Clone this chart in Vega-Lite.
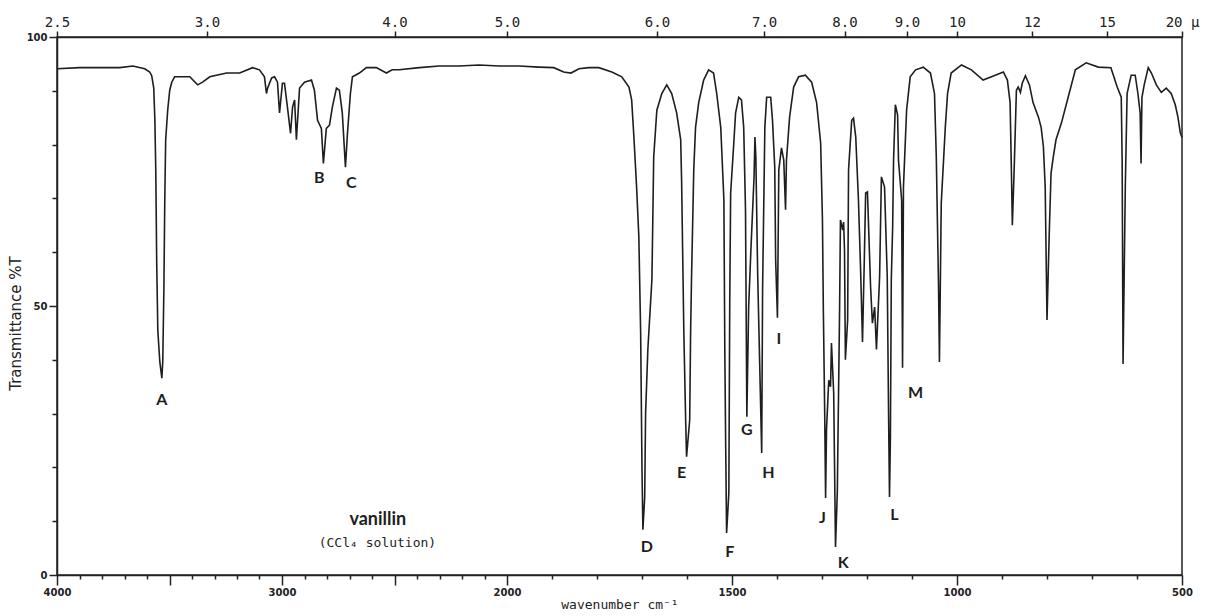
{
  "$schema": "https://vega.github.io/schema/vega-lite/v6.json",
  "width": 1125,
  "height": 538,
  "autosize": {"type": "none"},
  "padding": {"left": 57, "top": 37, "right": 30, "bottom": 41},
  "background": "white",
  "config": {
    "view": {"stroke": "#222222", "strokeWidth": 1.5},
    "axis": {"domainColor": "#222222", "tickColor": "#222222", "labelColor": "#222222", "titleColor": "#222222", "grid": false, "domainWidth": 1.5, "tickWidth": 1.5}
  },
  "datasets": {
    "spectrum": [
      {"wn": 4000, "T": 94.1}, {"wn": 3898, "T": 94.3}, {"wn": 3809, "T": 94.3}, {"wn": 3721, "T": 94.3}, {"wn": 3663, "T": 94.6},
      {"wn": 3610, "T": 94.1}, {"wn": 3588, "T": 93.5}, {"wn": 3579, "T": 92.8}, {"wn": 3570, "T": 90.5}, {"wn": 3565, "T": 84.5},
      {"wn": 3561, "T": 75.3}, {"wn": 3557, "T": 58.5}, {"wn": 3552, "T": 45.5}, {"wn": 3543, "T": 39.6}, {"wn": 3534, "T": 36.6},
      {"wn": 3530, "T": 39.6}, {"wn": 3525, "T": 53.0}, {"wn": 3521, "T": 69.7}, {"wn": 3517, "T": 80.9}, {"wn": 3508, "T": 86.4},
      {"wn": 3499, "T": 90.1}, {"wn": 3490, "T": 91.6}, {"wn": 3477, "T": 92.6}, {"wn": 3410, "T": 92.6}, {"wn": 3375, "T": 91.1},
      {"wn": 3353, "T": 91.6}, {"wn": 3321, "T": 92.6}, {"wn": 3246, "T": 93.3}, {"wn": 3188, "T": 93.3}, {"wn": 3131, "T": 94.3},
      {"wn": 3100, "T": 93.9}, {"wn": 3078, "T": 92.6}, {"wn": 3069, "T": 89.5}, {"wn": 3064, "T": 90.5}, {"wn": 3046, "T": 92.4},
      {"wn": 3033, "T": 92.6}, {"wn": 3020, "T": 91.6}, {"wn": 3011, "T": 85.9}, {"wn": 2998, "T": 91.4}, {"wn": 2989, "T": 91.4},
      {"wn": 2976, "T": 87.0}, {"wn": 2962, "T": 82.1}, {"wn": 2953, "T": 87.0}, {"wn": 2944, "T": 88.3}, {"wn": 2936, "T": 80.9},
      {"wn": 2922, "T": 90.5}, {"wn": 2900, "T": 91.6}, {"wn": 2869, "T": 92.0}, {"wn": 2856, "T": 90.1}, {"wn": 2842, "T": 84.5},
      {"wn": 2825, "T": 83.0}, {"wn": 2816, "T": 76.5}, {"wn": 2803, "T": 83.0}, {"wn": 2789, "T": 83.6}, {"wn": 2776, "T": 87.0},
      {"wn": 2758, "T": 90.5}, {"wn": 2745, "T": 90.1}, {"wn": 2732, "T": 85.9}, {"wn": 2718, "T": 75.8}, {"wn": 2709, "T": 82.1},
      {"wn": 2696, "T": 89.5}, {"wn": 2687, "T": 92.6}, {"wn": 2656, "T": 93.3}, {"wn": 2625, "T": 94.3}, {"wn": 2581, "T": 94.3},
      {"wn": 2536, "T": 93.3}, {"wn": 2510, "T": 93.9}, {"wn": 2479, "T": 93.9}, {"wn": 2390, "T": 94.3}, {"wn": 2301, "T": 94.6},
      {"wn": 2213, "T": 94.6}, {"wn": 2124, "T": 94.8}, {"wn": 2035, "T": 94.6}, {"wn": 1973, "T": 94.6}, {"wn": 1929, "T": 94.4},
      {"wn": 1896, "T": 94.3}, {"wn": 1874, "T": 93.5}, {"wn": 1858, "T": 93.3}, {"wn": 1840, "T": 94.1}, {"wn": 1818, "T": 94.3},
      {"wn": 1796, "T": 94.3}, {"wn": 1767, "T": 93.5}, {"wn": 1745, "T": 92.6}, {"wn": 1729, "T": 90.7}, {"wn": 1723, "T": 88.3},
      {"wn": 1718, "T": 81.4}, {"wn": 1712, "T": 72.1}, {"wn": 1707, "T": 62.8}, {"wn": 1703, "T": 45.0}, {"wn": 1700, "T": 19.5},
      {"wn": 1698, "T": 8.4}, {"wn": 1694, "T": 14.5}, {"wn": 1692, "T": 30.1}, {"wn": 1687, "T": 41.9}, {"wn": 1678, "T": 54.9},
      {"wn": 1676, "T": 66.0}, {"wn": 1674, "T": 77.7}, {"wn": 1667, "T": 86.4}, {"wn": 1656, "T": 89.5}, {"wn": 1645, "T": 91.1},
      {"wn": 1634, "T": 89.5}, {"wn": 1623, "T": 85.9}, {"wn": 1614, "T": 80.9}, {"wn": 1612, "T": 73.4}, {"wn": 1607, "T": 45.0},
      {"wn": 1603, "T": 28.8}, {"wn": 1601, "T": 22.0}, {"wn": 1594, "T": 28.8}, {"wn": 1592, "T": 45.0}, {"wn": 1590, "T": 54.9},
      {"wn": 1585, "T": 75.3}, {"wn": 1581, "T": 83.2}, {"wn": 1574, "T": 87.8}, {"wn": 1563, "T": 92.0}, {"wn": 1552, "T": 93.9},
      {"wn": 1541, "T": 93.3}, {"wn": 1534, "T": 89.5}, {"wn": 1525, "T": 83.2}, {"wn": 1518, "T": 69.7}, {"wn": 1516, "T": 41.9},
      {"wn": 1514, "T": 23.8}, {"wn": 1512, "T": 7.8}, {"wn": 1507, "T": 15.3}, {"wn": 1505, "T": 51.1}, {"wn": 1503, "T": 71.0},
      {"wn": 1496, "T": 80.3}, {"wn": 1492, "T": 85.9}, {"wn": 1485, "T": 88.8}, {"wn": 1479, "T": 88.3}, {"wn": 1474, "T": 83.2},
      {"wn": 1470, "T": 67.9}, {"wn": 1467, "T": 29.4}, {"wn": 1463, "T": 49.8}, {"wn": 1458, "T": 60.4}, {"wn": 1451, "T": 74.0},
      {"wn": 1449, "T": 81.4}, {"wn": 1447, "T": 77.7}, {"wn": 1443, "T": 56.1}, {"wn": 1434, "T": 22.7}, {"wn": 1432, "T": 53.5},
      {"wn": 1427, "T": 83.2}, {"wn": 1423, "T": 88.8}, {"wn": 1414, "T": 88.8}, {"wn": 1410, "T": 84.5}, {"wn": 1405, "T": 75.8},
      {"wn": 1403, "T": 58.5}, {"wn": 1399, "T": 47.8}, {"wn": 1396, "T": 75.3}, {"wn": 1390, "T": 79.4}, {"wn": 1385, "T": 77.1},
      {"wn": 1381, "T": 67.9}, {"wn": 1379, "T": 77.1}, {"wn": 1372, "T": 85.1}, {"wn": 1363, "T": 90.7}, {"wn": 1352, "T": 92.6},
      {"wn": 1337, "T": 92.9}, {"wn": 1323, "T": 91.6}, {"wn": 1312, "T": 87.8}, {"wn": 1303, "T": 80.3}, {"wn": 1299, "T": 66.0},
      {"wn": 1297, "T": 49.3}, {"wn": 1294, "T": 30.1}, {"wn": 1292, "T": 14.3}, {"wn": 1290, "T": 27.0}, {"wn": 1285, "T": 36.2},
      {"wn": 1281, "T": 35.0}, {"wn": 1279, "T": 43.1}, {"wn": 1274, "T": 33.8}, {"wn": 1270, "T": 5.2}, {"wn": 1266, "T": 15.3},
      {"wn": 1261, "T": 48.7}, {"wn": 1259, "T": 66.0}, {"wn": 1254, "T": 64.1}, {"wn": 1252, "T": 65.6}, {"wn": 1250, "T": 60.4},
      {"wn": 1248, "T": 40.0}, {"wn": 1243, "T": 47.4}, {"wn": 1241, "T": 75.3}, {"wn": 1234, "T": 84.5}, {"wn": 1230, "T": 84.9},
      {"wn": 1225, "T": 81.4}, {"wn": 1219, "T": 69.7}, {"wn": 1214, "T": 56.1}, {"wn": 1210, "T": 43.3}, {"wn": 1206, "T": 58.5},
      {"wn": 1203, "T": 71.0}, {"wn": 1199, "T": 71.2}, {"wn": 1192, "T": 53.5}, {"wn": 1188, "T": 46.8}, {"wn": 1183, "T": 49.8},
      {"wn": 1179, "T": 41.9}, {"wn": 1172, "T": 55.4}, {"wn": 1168, "T": 74.0}, {"wn": 1161, "T": 72.1}, {"wn": 1155, "T": 55.4},
      {"wn": 1152, "T": 29.4}, {"wn": 1150, "T": 14.5}, {"wn": 1148, "T": 25.6}, {"wn": 1146, "T": 54.9}, {"wn": 1143, "T": 64.7},
      {"wn": 1141, "T": 77.1}, {"wn": 1137, "T": 87.4}, {"wn": 1132, "T": 85.5}, {"wn": 1130, "T": 77.1}, {"wn": 1123, "T": 69.7},
      {"wn": 1121, "T": 38.5}, {"wn": 1119, "T": 72.1}, {"wn": 1112, "T": 86.4}, {"wn": 1104, "T": 92.6}, {"wn": 1092, "T": 93.9},
      {"wn": 1075, "T": 94.4}, {"wn": 1059, "T": 93.3}, {"wn": 1050, "T": 89.5}, {"wn": 1046, "T": 77.7}, {"wn": 1041, "T": 53.5},
      {"wn": 1039, "T": 39.6}, {"wn": 1035, "T": 69.1}, {"wn": 1026, "T": 83.2}, {"wn": 1021, "T": 89.5}, {"wn": 1013, "T": 93.3},
      {"wn": 990, "T": 94.8}, {"wn": 968, "T": 93.9}, {"wn": 942, "T": 92.0}, {"wn": 915, "T": 92.9}, {"wn": 897, "T": 93.5},
      {"wn": 888, "T": 92.0}, {"wn": 882, "T": 87.8}, {"wn": 879, "T": 74.7}, {"wn": 877, "T": 65.0}, {"wn": 873, "T": 75.3},
      {"wn": 868, "T": 90.1}, {"wn": 864, "T": 90.7}, {"wn": 859, "T": 89.7}, {"wn": 855, "T": 91.4}, {"wn": 848, "T": 92.8},
      {"wn": 839, "T": 91.1}, {"wn": 831, "T": 87.8}, {"wn": 819, "T": 85.1}, {"wn": 813, "T": 83.2}, {"wn": 808, "T": 79.6},
      {"wn": 804, "T": 72.1}, {"wn": 800, "T": 47.4}, {"wn": 795, "T": 63.5}, {"wn": 791, "T": 74.7}, {"wn": 786, "T": 77.7},
      {"wn": 780, "T": 80.9}, {"wn": 768, "T": 84.0}, {"wn": 753, "T": 88.8}, {"wn": 737, "T": 93.9}, {"wn": 713, "T": 95.2},
      {"wn": 686, "T": 94.4}, {"wn": 658, "T": 94.3}, {"wn": 644, "T": 90.7}, {"wn": 635, "T": 88.8}, {"wn": 633, "T": 77.1},
      {"wn": 631, "T": 39.2}, {"wn": 626, "T": 72.1}, {"wn": 622, "T": 89.5}, {"wn": 613, "T": 92.9}, {"wn": 604, "T": 92.9},
      {"wn": 598, "T": 89.5}, {"wn": 593, "T": 85.9}, {"wn": 591, "T": 76.5}, {"wn": 589, "T": 88.8}, {"wn": 584, "T": 91.1},
      {"wn": 575, "T": 94.3}, {"wn": 568, "T": 93.3}, {"wn": 557, "T": 91.1}, {"wn": 546, "T": 89.7}, {"wn": 535, "T": 90.5},
      {"wn": 524, "T": 89.5}, {"wn": 515, "T": 87.4}, {"wn": 509, "T": 85.1}, {"wn": 504, "T": 82.3}, {"wn": 500, "T": 81.3}
    ],
    "peaks": [
      {"label": "A", "wn": 3534, "T": 32.5}, {"label": "B", "wn": 2834, "T": 73.8}, {"label": "C", "wn": 2692, "T": 72.9},
      {"label": "D", "wn": 1689, "T": 5.2}, {"label": "E", "wn": 1612, "T": 18.9}, {"label": "F", "wn": 1505, "T": 4.2},
      {"label": "G", "wn": 1467, "T": 27.0}, {"label": "H", "wn": 1419, "T": 18.9}, {"label": "I", "wn": 1396, "T": 43.8},
      {"label": "J", "wn": 1299, "T": 10.6}, {"label": "K", "wn": 1253, "T": 2.3}, {"label": "L", "wn": 1139, "T": 11.1},
      {"label": "M", "wn": 1092, "T": 33.8}
    ],
    "notes": [
      {"text": "vanillin", "kind": "name", "wn": 2448, "T": 10.2},
      {"text": "(CCl₄ solution)", "kind": "solvent", "wn": 2315, "T": 5.9}
    ]
  },
  "resolve": {"axis": {"x": "independent", "y": "independent"}},
  "layer": [
    {
      "data": {"name": "spectrum"},
      "mark": {"type": "line", "color": "#1e1e1e", "strokeWidth": 1.6},
      "encoding": {
        "x": {
          "field": "wn", "type": "quantitative",
          "scale": {"domain": [4000, 2000, 500], "range": [0, 450, 1125], "nice": false, "zero": false},
          "axis": {
            "orient": "bottom",
            "values": [4000, 3900, 3800, 3700, 3600, 3500, 3400, 3300, 3200, 3100, 3000, 2900, 2800, 2700, 2600, 2500, 2400, 2300, 2200, 2100, 2000, 1900, 1800, 1700, 1600, 1500, 1400, 1300, 1200, 1100, 1000, 900, 800, 700, 600, 500],
            "labelExpr": "(datum.value % 1000 === 0 || datum.value === 1500 || datum.value === 500) ? datum.label : ''",
            "format": "d",
            "tickSize": {"condition": {"test": "datum.value % 500 === 0", "value": 10}, "value": 4},
            "labelFont": "DejaVu Sans", "labelFontSize": 10, "labelFontWeight": "bold", "labelPadding": 2,
            "labelOverlap": false, "labelFlush": false,
            "title": "wavenumber cm⁻¹", "titleFont": "DejaVu Sans Mono", "titleFontSize": 13, "titleFontWeight": "normal", "titlePadding": 1
          }
        },
        "y": {
          "field": "T", "type": "quantitative",
          "scale": {"domain": [0, 100], "nice": false, "zero": true},
          "axis": {
            "orient": "left",
            "values": [0, 10, 20, 30, 40, 50, 60, 70, 80, 90, 100],
            "labelExpr": "datum.value % 50 === 0 ? datum.label : ''",
            "tickSize": {"condition": {"test": "datum.value % 50 === 0", "value": 8}, "value": 5},
            "labelFont": "DejaVu Sans", "labelFontSize": 10, "labelFontWeight": "bold", "labelPadding": 2,
            "labelOverlap": false, "labelFlush": false,
            "title": "Transmittance %T", "titleFont": "DejaVu Sans", "titleFontSize": 15, "titleFontWeight": "normal", "titlePadding": 3, "titleY": 286
          }
        }
      }
    },
    {
      "data": {"name": "peaks"},
      "mark": {"type": "text", "font": "Lato", "fontWeight": "bold", "fontSize": 16, "color": "#1e1e1e", "align": "center", "baseline": "middle"},
      "encoding": {
        "x": {
          "field": "wn", "type": "quantitative",
          "scale": {"domain": [4000, 2000, 500], "range": [0, 450, 1125], "nice": false, "zero": false},
          "axis": {
            "orient": "top",
            "values": [4000, 3333.333, 2500, 2000, 1666.667, 1428.571, 1250, 1111.111, 1000, 833.333, 666.667, 500],
            "labelExpr": "datum.value < 501 ? '20 μ' : (datum.value > 1050 ? format(10000 / datum.value, '.1f') : format(10000 / datum.value, '.0f'))",
            "tickSize": 6,
            "labelFont": "DejaVu Sans Mono", "labelFontSize": 14, "labelPadding": 2,
            "labelOverlap": false, "labelFlush": false,
            "title": null
          }
        },
        "y": {"field": "T", "type": "quantitative", "scale": {"domain": [0, 100], "nice": false, "zero": true}, "axis": null},
        "text": {"field": "label"}
      }
    },
    {
      "data": {"name": "notes"},
      "transform": [{"filter": "datum.kind === 'name'"}],
      "mark": {"type": "text", "font": "Lato", "fontWeight": "bold", "fontSize": 18, "color": "#1e1e1e", "align": "right", "baseline": "middle"},
      "encoding": {
        "x": {"field": "wn", "type": "quantitative", "scale": {"domain": [4000, 2000, 500], "range": [0, 450, 1125], "nice": false, "zero": false}, "axis": null},
        "y": {"field": "T", "type": "quantitative", "scale": {"domain": [0, 100], "nice": false, "zero": true}, "axis": null},
        "text": {"field": "text"}
      }
    },
    {
      "data": {"name": "notes"},
      "transform": [{"filter": "datum.kind === 'solvent'"}],
      "mark": {"type": "text", "font": "DejaVu Sans Mono", "fontSize": 13, "color": "#1e1e1e", "align": "right", "baseline": "middle"},
      "encoding": {
        "x": {"field": "wn", "type": "quantitative", "scale": {"domain": [4000, 2000, 500], "range": [0, 450, 1125], "nice": false, "zero": false}, "axis": null},
        "y": {"field": "T", "type": "quantitative", "scale": {"domain": [0, 100], "nice": false, "zero": true}, "axis": null},
        "text": {"field": "text"}
      }
    }
  ]
}
